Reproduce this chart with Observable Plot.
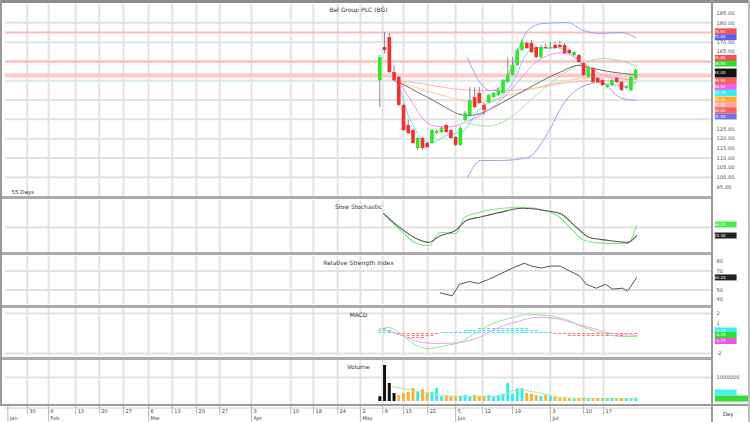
<!DOCTYPE html>
<html><head><meta charset="utf-8">
<script src="https://cdn.jsdelivr.net/npm/d3@7"></script>
<script src="https://cdn.jsdelivr.net/npm/@observablehq/plot@0.6"></script>
<style>
body{margin:0;background:#fff;}
#chart{position:relative;width:750px;height:422px;overflow:hidden;background:#fff;font-family:"DejaVu Sans",sans-serif;}
.sep{position:absolute;background:#ababab;}
</style></head><body><div id="chart"></div>
<script>
// ---- data ----
const title = "Bel Group PLC (BG)";
const firstSlot = 79;               // slot of the first trading day on the time axis
const open  = [150.1,167.2,172.4,154.3,151.7,137.2,126.8,124.2,114.9,120.1,117.5,117.5,122.7,123.2,126.8,124.2,120.6,116.5,129.4,132.0,141.3,143.4,137.2,138.7,141.3,142.4,143.4,149.1,152.7,157.9,165.7,169.3,169.3,167.2,162.0,167.2,166.7,168.3,168.3,168.3,165.7,163.1,163.1,158.9,151.7,156.3,151.2,150.1,146.5,147.5,151.2,149.1,146.0,144.9,151.2];
const high  = [163.1,175.0,174.5,157.9,152.2,137.7,129.4,125.2,120.6,120.6,118.0,124.7,124.7,126.3,127.3,124.7,121.1,126.3,134.1,146.5,146.5,146.5,138.2,142.9,143.9,146.0,150.6,161.5,162.0,166.7,170.9,170.3,170.9,167.7,168.3,168.8,169.8,169.8,170.3,169.3,166.2,165.2,163.6,159.5,157.4,156.9,151.7,150.6,148.0,150.6,151.7,149.6,147.5,152.2,156.3];
const low   = [136.1,164.1,153.8,149.6,136.6,123.7,122.1,117.0,113.9,113.9,114.9,117.0,122.1,122.7,122.7,119.6,116.0,116.0,128.9,131.5,135.6,137.7,132.0,138.2,140.8,141.8,142.9,148.6,152.2,157.4,165.2,166.2,164.1,161.5,161.5,166.2,166.2,166.2,166.7,163.6,163.6,162.6,158.9,152.2,151.2,148.6,148.6,147.0,146.0,147.0,148.6,144.4,145.5,144.4,150.6];
const close = [162.0,165.7,154.3,150.1,137.2,124.2,122.7,117.5,120.1,114.9,115.4,124.2,123.7,125.2,123.2,120.1,116.5,125.2,133.0,139.8,136.1,138.2,134.6,142.4,143.4,144.9,150.1,152.7,157.9,165.7,169.8,166.7,164.6,162.0,167.2,166.7,167.2,166.7,167.2,164.1,164.1,164.6,159.5,152.7,156.9,149.1,149.1,147.5,147.5,150.1,149.1,144.9,146.5,151.7,155.3];
const volume = [0.2,1.5,0.75,0.33,0.25,0.33,0.38,0.54,0.38,0.5,0.33,0.38,0.54,0.2,0.25,0.2,0.17,0.21,0.25,0.2,0.25,0.17,0.21,0.25,0.21,0.25,0.3,0.75,0.3,0.54,0.54,0.33,0.3,0.25,0.21,0.25,0.2,0.17,0.14,0.12,0.12,0.1,0.12,0.14,0.1,0.12,0.1,0.1,0.12,0.1,0.1,0.12,0.1,0.12,0.14];
const macdHist = [0.3,0.5,0.4,0.2,-0.2,-0.4,-0.5,-0.6,-0.5,-0.5,-0.4,-0.3,-0.2,0.1,0.1,0.1,0.1,0.2,0.3,0.4,0.4,0.5,0.5,0.5,0.5,0.6,0.6,0.6,0.6,0.5,0.5,0.5,0.4,0.3,0.2,0.1,0.1,-0.1,-0.2,-0.2,-0.3,-0.3,-0.3,-0.4,-0.4,-0.4,-0.4,-0.4,-0.3,-0.3,-0.3,-0.3,-0.2,-0.2,-0.1];

// moving averages / bands: [slot, value]
const maCyan = [[81.9,150.1],[82.9,148],[84,139.8],[85,132],[86.1,126.8],[87.2,122],[88.2,119],[89.7,118],[91.2,119],[92.9,121.6],[95,122.7],[96.7,124.2],[98.1,128.4],[99.8,134.6],[101.7,138.2],[103.4,139.8],[105.1,142.4],[106.6,147.5],[108.1,154.3],[109.3,161.5],[110.8,165.7],[112.3,167.2],[114.4,166.7],[116.1,167.2],[118.2,165.7],[119.9,163.1],[121.4,158.9],[123,153.8],[124.7,150.6],[126.4,148.6],[128.1,148],[129.8,147.5],[131.5,147],[133,149.1]];
const maMagenta = [[81.9,150.1],[83.4,147.5],[85.5,140],[88.2,130],[90.5,126.5],[93,126],[95.5,127],[98,129.5],[100.9,133],[103.4,137.5],[106,143.5],[108.7,151],[111.4,158.5],[114.4,163],[117.1,164.5],[119.5,163],[121.4,160],[123.5,156.5],[125.6,153.5],[128.7,151.5],[132.5,150.5],[133.2,150.8]];
const maGrey = [[81.9,150.1],[84,148],[87,144],[90.3,139.8],[93,136],[95.4,133],[97.5,132],[99.5,132.5],[102,135],[104.5,138.2],[108,143],[111.4,147.5],[114.4,151.5],[117.1,154.5],[120.9,157.9],[124.1,156.3],[128,154.5],[132.5,153.2],[133.2,153]];
const maOrange = [[81.9,150.1],[83.4,149.1],[88,145.5],[93.9,141.3],[98.8,138.7],[102,139.5],[106,142.4],[110,145],[115.7,148.6],[122,151.2],[127,151.5],[133.2,151.2]];
const maPink = [[81.9,150.1],[88,148.5],[93.9,146],[100,145],[104.5,144.9],[110,145.5],[118.6,149.1],[125,150],[133.2,149.1]];
const bollMid = [[97.5,128],[99.5,127],[102,126.5],[104.5,128],[108.1,134],[111.5,141.5],[115,148.6],[118,154],[120.7,158],[123.5,160.5],[126.5,161.5],[129.5,160.5],[133.2,157.5]];
const bollUpper = [[97.5,162],[100.3,148.6],[102.4,144.9],[105.1,148.6],[107.2,158.9],[110.2,176.0],[113.5,179.7],[118.6,180.2],[122,176.0],[125.6,174.5],[129.8,175.0],[133,172.4]];
const bollLower = [[97.5,99.9],[100.3,108.7],[104.5,108.7],[110.2,110.2],[114.4,122.7],[117.8,138.2],[121.4,146.5],[125.6,149.1],[129.8,141.3],[133,139.8]];
const levels = [175.0, 160.0];
const levelWide = [152.7];
const levelTeal = [149.6];

const stochK = [[79.8,79],[82.7,54],[86.7,27],[89.3,19],[91.8,33],[95,44],[97.3,65],[99.8,71],[104.1,81],[109.1,90],[114,85],[117.1,79],[120.1,54],[123.3,29],[127.3,23],[131.3,19],[133.2,33]];
const stochD = [[80.2,75],[83.8,40],[86.7,17],[89.3,12],[91.8,40],[95,37],[96.9,71],[99.8,81],[104.9,90],[109.1,92],[114,85],[116.5,75],[119.7,44],[122.2,23],[126.2,17],[131.3,17],[133.2,54]];
const rsi = [[91.8,47],[94.3,44],[95.8,56],[97.9,59],[99.8,57],[101.9,61],[104.5,67],[107,73],[109.5,78],[111,75],[113.1,73],[115,75],[117.1,75],[119,70],[121.1,65],[122.6,56],[124.7,52],[126.6,56],[128.1,51],[130.2,52],[131.3,49],[133.2,63]];
const macdLine = [[78.7,0.4],[80.8,0.6],[83.8,-0.2],[86.7,-1.2],[89.3,-1.5],[92.9,-1.2],[95.8,-0.9],[99,0],[103,1.0],[107,1.6],[110,1.9],[114,1.8],[118.2,1.4],[122.2,0.6],[126.2,0],[130.2,-0.3],[133.2,-0.3]];
const macdSignal = [[79.8,0.4],[84.8,-0.4],[87.8,-0.9],[91.8,-1.0],[95.8,-0.9],[99.8,-0.4],[104.1,0.6],[108.1,1.2],[112.1,1.6],[116.1,1.5],[120.1,1.0],[124.1,0.5],[128.1,0],[133.2,-0.2]];
const volumeMA = [[81.7,0.625],[84.8,0.5],[89.9,0.33],[95.8,0.21],[104.1,0.21],[108.1,0.5],[112.1,0.38],[116.1,0.21],[122.2,0.125],[133.2,0.125]];

// right-axis tick labels that are not hidden behind the value boxes
const mainTicks = [185,180,170,165,125,120,115,110,105,100,95];
const mainGrid = [180,170,160,150,140,130,120,110,100];
const mainBoxValues = [175.6,172.6,161.8,158.9,154.0,149.9,146.8,143.7,140.3,137.4,134.6,131.5];
const mainBoxColors = ["#ff4d4d","#5c5cf0","#ff4d4d","#2fdc2f","#111111","#ff5c5c","#f060f0","#30eeee","#ffaa30","#ffa8a8","#ff5c5c","#6f6fe8"];
const stochBoxValues = [56.25, 33.3];
const stochBoxColors = ["#44ee44","#222222"];
const rsiTicks = [80,70,50,40];
const rsiBoxValues = [63.2];
const macdTicks = [2,1,-2];
const macdBoxValues = [0.3,-0.15,-0.75];
const macdBoxColors = ["#33f0f0","#33dd33","#ee55ee"];
const volTicks = [1];
const volBoxValues = [0.375];
const weekSlots = [4.6,9.1,14.8,19.8,24.9,30.2,35.2,40.3,45.2,51.9,60.2,65,70.1,74.9,79.6,84,89.1,95,100.7,107,115,122,126.2];
const weekLabels = ["30","6","13","20","27","6","13","20","27","3","10","18","24","2","8","15","22","5","12","19","3","10","17"];
const monthSlots = [0.5,9.1,30.2,51.9,74.9,95,115];
const monthLabels = ["Jan","Feb","Mar","Apr","May","Jun","Jul"];

// ---- build ----
const candles = open.map((o, i) => ({slot: firstSlot + i, open: o, high: high[i], low: low[i], close: close[i], vol: volume[i], hist: macdHist[i]}));
const chart = document.getElementById("chart");
const FONT = "DejaVu Sans, sans-serif";
function panel(top, height, yDomain, marks) {
  const svg = Plot.plot({
    width: 750, height, marginLeft: 5, marginRight: 39, marginTop: 0, marginBottom: 0,
    x: {domain: [0, 149], axis: null}, y: {domain: yDomain, axis: null},
    color: {type: "identity"},
    style: {background: "transparent", fontFamily: FONT, overflow: "visible"},
    marks
  });
  svg.style.position = "absolute"; svg.style.left = "0px"; svg.style.top = top + "px";
  chart.appendChild(svg);
}
const vGrid = () => Plot.ruleX(weekSlots, {stroke: "#e2e2e2", strokeWidth: 2});
const ln = (pts, stroke, w = 1, curve = "monotone-x") => Plot.line(pts, {x: d => d[0], y: d => d[1], stroke, strokeWidth: w, curve});
const rightTicks = (vals, fmt) => Plot.text(vals, {y: d => d, text: fmt, frameAnchor: "right", dx: 5, textAnchor: "start", fill: "#555", fontSize: 5.2});
const boxes = (vals, colors, x2 = 154.4, w = 6) => [
  Plot.ruleY(vals, {y: d => d, x1: 149.8, x2, stroke: (d, i) => colors[i], strokeWidth: w}),
  Plot.text(vals, {y: d => d, text: d => d.toFixed(2), frameAnchor: "right", dx: 14, fill: "#fff", fontSize: 4})
];
const panelTitle = (t) => Plot.text([t], {frameAnchor: "top", dy: 4, fill: "#333", fontSize: 6});

// main price panel
panel(4, 192, [90.03, 189.51], [
  vGrid(),
  Plot.ruleY(mainGrid, {stroke: "#e2e2e2", strokeWidth: 2}),
  Plot.ruleY(levels, {stroke: "#ffbcbc", strokeWidth: 2}),
  Plot.ruleY(levelWide, {stroke: "#ffc8c8", strokeWidth: 4}),
  Plot.ruleY(levelTeal, {stroke: "#dcf2f2", strokeWidth: 1.5}),
  ln(maPink, "#ffb0b0"),
  ln(maOrange, "#ffcf90"),
  ln(bollUpper, "#a0a0f0"),
  ln(bollLower, "#a0a0f0"),
  ln(bollMid, "#9ee89e"),
  ln(maGrey, "#6e6e6e"),
  ln(maMagenta, "#f090f0"),
  ln(maCyan, "#5ee0e8"),
  Plot.ruleX(candles, {x: "slot", y1: "low", y2: "high", stroke: "#8a8a8a", strokeWidth: 1}),
  Plot.ruleX(candles, {x: "slot", y1: "open", y2: "close", stroke: d => d.close >= d.open ? "#22ee22" : "#ff2b2b", strokeWidth: 3.6}),
  rightTicks(mainTicks, d => d.toFixed(2)),
  Plot.ruleY(mainBoxValues, {y: d => d, x1: 149.8, x2: 154.4, stroke: (d, i) => mainBoxColors[i], strokeWidth: (d, i) => i === 4 ? 9 : 6}),
  Plot.text(mainBoxValues, {y: d => d, text: d => d.toFixed(2), frameAnchor: "right", dx: 14, fill: "#fff", fontSize: 4}),
  Plot.text([title], {frameAnchor: "top", dy: 3, fill: "#333", fontSize: 6}),
  Plot.text(["55 Days"], {frameAnchor: "bottom-left", dx: 6, dy: -3, textAnchor: "start", fill: "#333", fontSize: 5.5})
]);

// slow stochastic
panel(200, 52, [-2.08, 106.25], [
  vGrid(),
  Plot.ruleY([50], {stroke: "#e2e2e2", strokeWidth: 2}),
  ln(stochD, "#7fe87f", 1.1),
  ln(stochK, "#555555", 1.1),
  ...boxes(stochBoxValues, stochBoxColors),
  panelTitle("Slow Stochastic")
]);

// RSI
panel(256, 48, [35, 85], [
  vGrid(),
  Plot.ruleY([70, 50], {stroke: "#e2e2e2", strokeWidth: 2}),
  ln(rsi, "#555555", 1, "linear"),
  rightTicks(rsiTicks, d => String(d)),
  ...boxes(rsiBoxValues, ["#222222"]),
  panelTitle("Relative Strength Index")
]);

// MACD
panel(308, 48, [-2.3, 2.5], [
  vGrid(),
  Plot.ruleY([2, -2], {stroke: "#e2e2e2", strokeWidth: 2}),
  Plot.ruleX(candles, {x: "slot", y1: 0, y2: "hist", stroke: d => d.hist >= 0 ? "#33e6f0" : "#ff7474", strokeWidth: 3, strokeDasharray: "1,1"}),
  ln(macdLine, "#8fe88f", 1),
  ln(macdSignal, "#f0a0f0", 1),
  rightTicks(macdTicks, d => String(d)),
  ...boxes(macdBoxValues, macdBoxColors),
  panelTitle("MACD")
]);

// Volume
panel(360, 44, [-0.125, 1.708], [
  vGrid(),
  Plot.ruleY([1], {stroke: "#e2e2e2", strokeWidth: 2}),
  Plot.ruleX(candles, {x: "slot", y1: 0, y2: "vol", stroke: (d, i) => i < 4 ? "#111111" : (d.close >= d.open ? "#33eef0" : "#ffb030"), strokeWidth: 3}),
  ln(volumeMA, "#a8ec98", 1),
  Plot.text(volTicks, {y: d => d, text: d => String(d * 1000000), frameAnchor: "right", dx: 5, textAnchor: "start", fill: "#555", fontSize: 5.2}),
  Plot.ruleY(volBoxValues, {y: d => d, x1: 149.8, x2: 154.4, stroke: "#44f0f0", strokeWidth: 6}),
  Plot.ruleY([0.125], {y: d => d, x1: 149.8, x2: 157.5, stroke: "#33dd33", strokeWidth: 6}),
  panelTitle("Volume")
]);

// date axis
{
  const svg = Plot.plot({
    width: 750, height: 17, marginLeft: 5, marginRight: 39, marginTop: 0, marginBottom: 0,
    x: {domain: [0, 149], axis: null}, y: {domain: [0, 1], axis: null},
    style: {background: "transparent", fontFamily: FONT, overflow: "visible"},
    marks: [
      Plot.ruleY([0.85], {stroke: "#d0d0d0", strokeWidth: 1}),
      Plot.ruleX(weekSlots, {y1: 1, y2: 0.45, stroke: "#bbbbbb", strokeWidth: 1}),
      Plot.ruleX(monthSlots, {y1: 1, y2: 0, stroke: "#bbbbbb", strokeWidth: 1}),
      Plot.text(weekSlots, {x: d => d, y: 0.68, text: (d, i) => weekLabels[i], dx: 2, textAnchor: "start", fill: "#444", fontSize: 5}),
      Plot.text(monthSlots, {x: d => d, y: 0.22, text: (d, i) => monthLabels[i], dx: 2, textAnchor: "start", fill: "#444", fontSize: 5}),
      Plot.text(["Day"], {frameAnchor: "right", dx: 22, fill: "#444", fontSize: 5.5})
    ]
  });
  svg.style.position = "absolute"; svg.style.left = "0px"; svg.style.top = "405px";
  chart.appendChild(svg);
}

// panel borders
[[0,0,750,3,"#8c8c8c"],[0,196,711,3],[0,252,711,3],[0,305,711,3],[0,357,711,3],[0,404,750,2,"#999"],
 [0,0,2,405,"#9a9a9a"],[711,0,2,422,"#9a9a9a"],[748,0,2,422,"#bdbdbd"]].forEach(([l,t,w,h,c]) => {
  const d = document.createElement("div");
  d.className = "sep";
  d.style.cssText = `left:${l}px;top:${t}px;width:${w}px;height:${h}px;` + (c ? `background:${c};` : "");
  chart.appendChild(d);
});
</script></body></html>
